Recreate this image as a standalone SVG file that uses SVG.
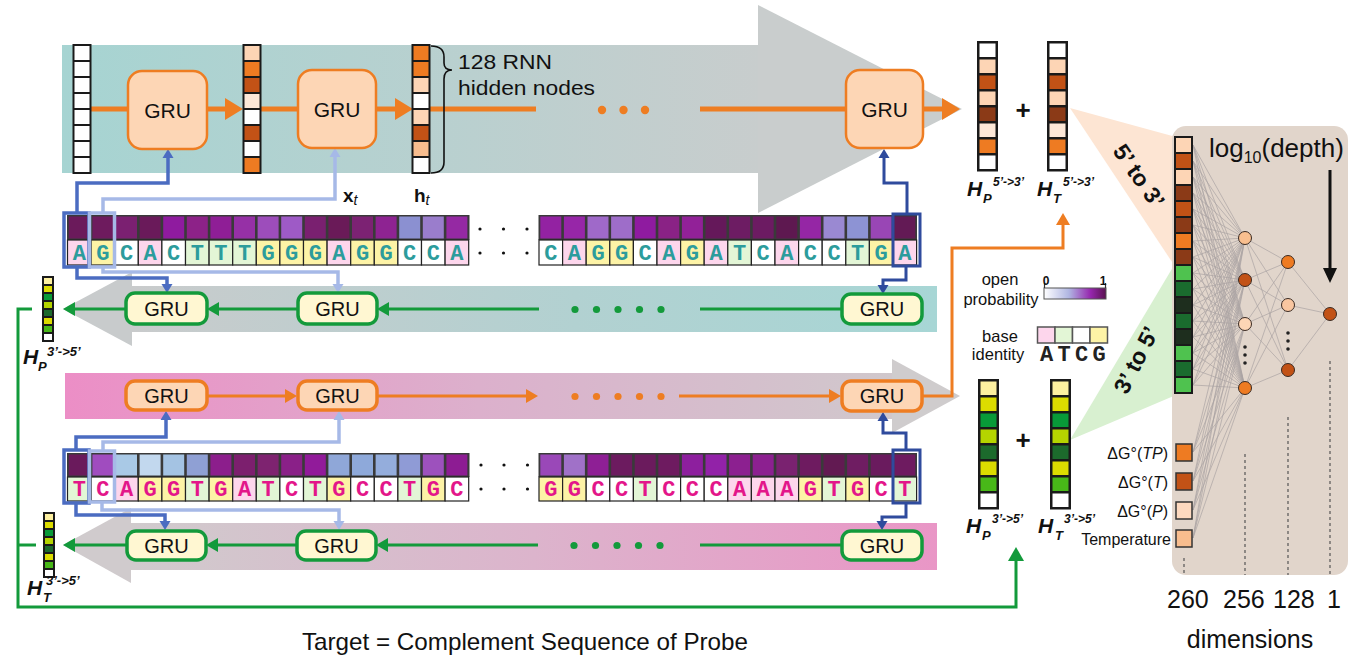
<svg xmlns="http://www.w3.org/2000/svg" width="1359" height="662" viewBox="0 0 1359 662">
<defs>
<linearGradient id="gB1" gradientUnits="userSpaceOnUse" x1="62" y1="0" x2="760" y2="0"><stop offset="0" stop-color="#a6d4d2"/><stop offset="1" stop-color="#c8cdcd"/></linearGradient>
<linearGradient id="gB2" gradientUnits="userSpaceOnUse" x1="132" y1="0" x2="937" y2="0"><stop offset="0" stop-color="#c9cbcc"/><stop offset="0.55" stop-color="#b2d1d1"/><stop offset="1" stop-color="#a7d6d5"/></linearGradient>
<linearGradient id="gB3" gradientUnits="userSpaceOnUse" x1="65" y1="0" x2="892" y2="0"><stop offset="0" stop-color="#ec8ec6"/><stop offset="0.5" stop-color="#dcb0cc"/><stop offset="1" stop-color="#d0c8cc"/></linearGradient>
<linearGradient id="gB4" gradientUnits="userSpaceOnUse" x1="131" y1="0" x2="937" y2="0"><stop offset="0" stop-color="#d0cbcd"/><stop offset="0.5" stop-color="#dcb4cc"/><stop offset="1" stop-color="#e996c6"/></linearGradient>
<linearGradient id="gLeg" x1="0" y1="0" x2="1" y2="0"><stop offset="0" stop-color="#ffffff"/><stop offset="0.4" stop-color="#b0b6e2"/><stop offset="0.75" stop-color="#9626ae"/><stop offset="1" stop-color="#5a1250"/></linearGradient>
<marker id="mOrB" markerUnits="userSpaceOnUse" markerWidth="18" markerHeight="22" refX="0" refY="11" orient="auto" overflow="visible"><path d="M0,0 L18,11 L0,22 z" fill="#ee7d22"/></marker>
<marker id="mOr" markerUnits="userSpaceOnUse" markerWidth="12" markerHeight="14" refX="0" refY="7" orient="auto" overflow="visible"><path d="M0,0 L12,7 L0,14 z" fill="#ee7d22"/></marker>
<marker id="mGr" markerUnits="userSpaceOnUse" markerWidth="12" markerHeight="14" refX="0" refY="7" orient="auto" overflow="visible"><path d="M0,0 L12,7 L0,14 z" fill="#139a3b"/></marker>
<marker id="mGrB" markerUnits="userSpaceOnUse" markerWidth="14" markerHeight="16" refX="0" refY="8" orient="auto" overflow="visible"><path d="M0,0 L14,8 L0,16 z" fill="#139a3b"/></marker>
<marker id="mDb" markerUnits="userSpaceOnUse" markerWidth="9" markerHeight="11" refX="0" refY="5.5" orient="auto" overflow="visible"><path d="M0,0 L9,5.5 L0,11 z" fill="#4b6cc1"/></marker>
<marker id="mLb" markerUnits="userSpaceOnUse" markerWidth="9" markerHeight="11" refX="0" refY="5.5" orient="auto" overflow="visible"><path d="M0,0 L9,5.5 L0,11 z" fill="#a6b9e7"/></marker>
<marker id="mNv" markerUnits="userSpaceOnUse" markerWidth="9" markerHeight="11" refX="0" refY="5.5" orient="auto" overflow="visible"><path d="M0,0 L9,5.5 L0,11 z" fill="#2f4b9d"/></marker>
<style>
.t{font-family:"Liberation Sans",Arial,sans-serif;fill:#111}
.H{font-family:"Liberation Sans",Arial,sans-serif;font-weight:bold;font-style:italic;fill:#111}
.gru{fill:#fdd6b5;stroke:#ee7d22;stroke-width:2.5}
.gruo{fill:#fdd6b5;stroke:#ee7d22;stroke-width:3.5}
.grug{fill:#fff7d2;stroke:#139a3b;stroke-width:3.5}
.gt{font-size:21px;text-anchor:middle}
.rt{font-size:20px;text-anchor:middle}
.seq{font-family:"Liberation Mono","Courier New",monospace;font-weight:bold;font-size:22px;text-anchor:middle}
.sp{fill:#2c9c9c}
.st{fill:#e3168a}
.A,.T,.C,.G{stroke:#222;stroke-width:1.2}
.A{fill:#fdd6ec}.T{fill:#e3f6d6}.C{fill:#ffffff}.G{fill:#fdf3a6}
.orb{stroke:#ee7d22;fill:none;stroke-width:5}
.or{stroke:#ee7d22;fill:none;stroke-width:3}
.gr{stroke:#139a3b;fill:none;stroke-width:3}
.db{stroke:#4b6cc1;fill:none;stroke-width:3.5}
.lb{stroke:#a6b9e7;fill:none;stroke-width:3.5}
.nv{stroke:#2f4b9d;fill:none;stroke-width:3}
.nnl{stroke:#aaa3a3;stroke-width:0.7;fill:none}
.dash{stroke:#555;stroke-width:1.2;stroke-dasharray:3 3}
.node{stroke:#3a2a22;stroke-width:1}
.blk{fill:#1a1a1a}
</style>
</defs>
<rect width="1359" height="662" fill="#ffffff"/>

<!-- bands -->
<g id="band-probe-fwd"><rect x="62" y="45" width="697" height="128" fill="url(#gB1)"/><polygon points="758,5 962,109 758,213" fill="#c9cdcd"/></g>
<g id="band-probe-bwd"><polygon points="63,309 132,272 132,346" fill="#c8cbcc"/><rect x="131.5" y="286" width="805.5" height="46" fill="url(#gB2)"/></g>
<g id="band-target-fwd"><rect x="65" y="373" width="828" height="46" fill="url(#gB3)"/><polygon points="892,359 960,396 892,433" fill="#cfcccd"/></g>
<g id="band-target-bwd"><polygon points="63,545 131,508 131,583" fill="#d0cbcd"/><rect x="130.5" y="523" width="806.5" height="47" fill="url(#gB4)"/></g>

<!-- NN triangles -->
<polygon id="fan-53" points="1070,108 1176,137 1176,268" fill="#fde5d3"/>
<polygon id="fan-35" points="1070,440 1176,262 1176,395" fill="#d8f0d0"/>

<!-- connectors -->
<g id="connectors">
<path class="orb" d="M91,109 H128"/>
<path class="orb" d="M207,109 H225" marker-end="url(#mOrB)"/>
<path class="orb" d="M260,109 H298"/>
<path class="orb" d="M376,109 H395" marker-end="url(#mOrB)"/>
<path class="orb" d="M429,109 H536"/>
<path class="orb" d="M700,109 H846"/>
<path class="orb" d="M923,109 H942" marker-end="url(#mOrB)"/>
<g fill="#ee7d22"><circle cx="602" cy="110" r="4.2"/><circle cx="623.5" cy="110" r="4.2"/><circle cx="645" cy="110" r="4.2"/></g>

<path class="gr" d="M126,309 H75" marker-end="url(#mGr)"/>
<path class="gr" d="M298,309 H219" marker-end="url(#mGr)"/>
<path class="gr" d="M539,309 H389" marker-end="url(#mGr)"/>
<path class="gr" d="M842,309 H700"/>
<g fill="#139a3b"><circle cx="575" cy="309.5" r="3.6"/><circle cx="596.5" cy="309.5" r="3.6"/><circle cx="618" cy="309.5" r="3.6"/><circle cx="639.5" cy="309.5" r="3.6"/><circle cx="661" cy="309.5" r="3.6"/></g>

<path class="or" d="M207,396 H285" marker-end="url(#mOr)"/>
<path class="or" d="M377,396 H526" marker-end="url(#mOr)"/>
<path class="or" d="M679,396 H829" marker-end="url(#mOr)"/>
<path class="or" d="M922,396 H952 V248 H1063 V225" marker-end="url(#mOr)"/>
<g fill="#ee7d22"><circle cx="575" cy="396.5" r="3.6"/><circle cx="596.5" cy="396.5" r="3.6"/><circle cx="618" cy="396.5" r="3.6"/><circle cx="639.5" cy="396.5" r="3.6"/><circle cx="661" cy="396.5" r="3.6"/></g>

<path class="gr" d="M127,545 H75" marker-end="url(#mGr)"/>
<path class="gr" d="M297,545 H218" marker-end="url(#mGr)"/>
<path class="gr" d="M538,545 H388" marker-end="url(#mGr)"/>
<path class="gr" d="M842,545 H700"/>
<g fill="#139a3b"><circle cx="574" cy="545.5" r="3.6"/><circle cx="595.5" cy="545.5" r="3.6"/><circle cx="617" cy="545.5" r="3.6"/><circle cx="638.5" cy="545.5" r="3.6"/><circle cx="660" cy="545.5" r="3.6"/></g>

<path class="gr" d="M32,309 H18 V607 H1016 V561" marker-end="url(#mGrB)"/>
<path class="gr" d="M18,545 H36"/>

<path class="db" d="M77,213 V183 H168 V158" marker-end="url(#mDb)"/>
<path class="lb" d="M103,213 V199 H335 V157" marker-end="url(#mLb)"/>
<path class="nv" d="M907,214 V183 H884 V158" marker-end="url(#mNv)"/>
<path class="db" d="M77,267 V278 H167 V284" marker-end="url(#mDb)"/>
<path class="lb" d="M103,267 V272 H338 V284" marker-end="url(#mLb)"/>
<path class="nv" d="M906,266 V280 H883 V285" marker-end="url(#mNv)"/>
<path class="db" d="M76,450 V437 H166 V420" marker-end="url(#mDb)"/>
<path class="lb" d="M103,451 V442 H339 V420" marker-end="url(#mLb)"/>
<path class="nv" d="M906,450 V433 H883 V421" marker-end="url(#mNv)"/>
<path class="db" d="M76,503 V515 H165 V521" marker-end="url(#mDb)"/>
<path class="lb" d="M102,502 V510 H339 V521" marker-end="url(#mLb)"/>
<path class="nv" d="M906,503 V517 H882 V521" marker-end="url(#mNv)"/>
</g>

<!-- top GRUs -->
<g id="gru-t1"><rect class="gru" x="128" y="71" width="79" height="78" rx="14"/><text class="t gt" x="167.5" y="118">GRU</text></g>
<g id="gru-t2"><rect class="gru" x="298" y="70" width="78" height="78" rx="14"/><text class="t gt" x="337" y="117">GRU</text></g>
<g id="gru-t3"><rect class="gru" x="846" y="70" width="77" height="78" rx="14"/><text class="t gt" x="884.5" y="117">GRU</text></g>
<!-- row 2 -->
<g id="gru-b1"><rect class="grug" x="126" y="293" width="81" height="31" rx="9"/><text class="t rt" x="166.5" y="316">GRU</text></g>
<g id="gru-b2"><rect class="grug" x="298" y="293" width="79" height="31" rx="9"/><text class="t rt" x="337.5" y="316">GRU</text></g>
<g id="gru-b3"><rect class="grug" x="842" y="294" width="80" height="30" rx="9"/><text class="t rt" x="882" y="316">GRU</text></g>
<!-- row 3 -->
<g id="gru-c1"><rect class="gruo" x="126" y="381" width="81" height="29" rx="9"/><text class="t rt" x="166.5" y="403">GRU</text></g>
<g id="gru-c2"><rect class="gruo" x="298" y="381" width="79" height="29" rx="9"/><text class="t rt" x="337.5" y="403">GRU</text></g>
<g id="gru-c3"><rect class="gruo" x="842" y="381" width="80" height="30" rx="9"/><text class="t rt" x="882" y="403">GRU</text></g>
<!-- row 4 -->
<g id="gru-d1"><rect class="grug" x="127" y="531" width="79" height="29" rx="9"/><text class="t rt" x="166.5" y="553">GRU</text></g>
<g id="gru-d2"><rect class="grug" x="297" y="531" width="79" height="29" rx="9"/><text class="t rt" x="336.5" y="553">GRU</text></g>
<g id="gru-d3"><rect class="grug" x="842" y="531" width="80" height="29" rx="9"/><text class="t rt" x="882" y="553">GRU</text></g>

<!-- top vectors -->
<g id="vec-h0"><rect class="blk" x="72.5" y="44" width="19" height="130"/>
<g fill="#ffffff"><rect x="74.5" y="46" width="15" height="14"/><rect x="74.5" y="62" width="15" height="14"/><rect x="74.5" y="78" width="15" height="14"/><rect x="74.5" y="94" width="15" height="14"/><rect x="74.5" y="110" width="15" height="14"/><rect x="74.5" y="126" width="15" height="14"/><rect x="74.5" y="142" width="15" height="14"/><rect x="74.5" y="158" width="15" height="14"/></g></g>
<g id="vec-h1"><rect class="blk" x="242.5" y="44" width="19" height="130"/>
<rect x="244.5" y="46" width="15" height="14" fill="#fdd5b5"/><rect x="244.5" y="62" width="15" height="14" fill="#ee7b22"/><rect x="244.5" y="78" width="15" height="14" fill="#c25216"/><rect x="244.5" y="94" width="15" height="14" fill="#fde8d8"/><rect x="244.5" y="110" width="15" height="14" fill="#ffffff"/><rect x="244.5" y="126" width="15" height="14" fill="#c25216"/><rect x="244.5" y="142" width="15" height="14" fill="#ffffff"/><rect x="244.5" y="158" width="15" height="14" fill="#ee7b22"/></g>
<g id="vec-ht"><rect class="blk" x="411.5" y="44" width="19" height="130"/>
<rect x="413.5" y="46" width="15" height="14" fill="#ee7b22"/><rect x="413.5" y="62" width="15" height="14" fill="#ee7b22"/><rect x="413.5" y="78" width="15" height="14" fill="#fdd5b5"/><rect x="413.5" y="94" width="15" height="14" fill="#ffffff"/><rect x="413.5" y="110" width="15" height="14" fill="#fdd5b5"/><rect x="413.5" y="126" width="15" height="14" fill="#c25216"/><rect x="413.5" y="142" width="15" height="14" fill="#f8bd8e"/><rect x="413.5" y="158" width="15" height="14" fill="#ffffff"/></g>
<g id="brace"><path d="M431,46 C440,46 444,50 444,57 L444,63 C444,67 446,70 452,70 C446,70 444,73 444,79 L444,162 C444,169 440,173 431,173" fill="none" stroke="#111" stroke-width="1.6"/>
<text class="t" x="458" y="69" font-size="20" textLength="94" lengthAdjust="spacingAndGlyphs">128 RNN</text><text class="t" x="458" y="95" font-size="20" textLength="137" lengthAdjust="spacingAndGlyphs">hidden nodes</text></g>
<g id="label-xt"><text class="t" x="343" y="202" font-size="19" font-weight="bold">x<tspan font-size="14" font-style="italic" font-weight="normal" dy="3">t</tspan></text></g>
<g id="label-ht"><text class="t" x="414" y="202" font-size="19" font-weight="bold">h<tspan font-size="14" font-style="italic" font-weight="normal" dy="3">t</tspan></text></g>

<!-- probe sequence -->
<g id="seq-probe-left">
<rect x="67" y="215" width="402.5" height="25" fill="#3a3a3a"/>
<rect x="68.8" y="216.5" width="21" height="22" fill="#6b1a5b"/><rect x="92.4" y="216.5" width="21" height="22" fill="#6e1b5e"/><rect x="116" y="216.5" width="21" height="22" fill="#7b2071"/><rect x="139.6" y="216.5" width="21" height="22" fill="#6a1a5a"/><rect x="163.2" y="216.5" width="21" height="22" fill="#8f1b9f"/><rect x="186.8" y="216.5" width="21" height="22" fill="#8d2288"/><rect x="210.4" y="216.5" width="21" height="22" fill="#8f1e96"/><rect x="234" y="216.5" width="21" height="22" fill="#9630a6"/><rect x="257.6" y="216.5" width="21" height="22" fill="#9d4dbb"/><rect x="281.2" y="216.5" width="21" height="22" fill="#9e5ac6"/><rect x="304.8" y="216.5" width="21" height="22" fill="#7a2070"/><rect x="328.4" y="216.5" width="21" height="22" fill="#6a1a58"/><rect x="352" y="216.5" width="21" height="22" fill="#7c2273"/><rect x="375.6" y="216.5" width="21" height="22" fill="#8e2392"/><rect x="399.2" y="216.5" width="21" height="22" fill="#8b90d1"/><rect x="422.8" y="216.5" width="21" height="22" fill="#9a7dcc"/><rect x="446.4" y="216.5" width="21" height="22" fill="#9529a3"/>
<rect class="A" x="67.5" y="240" width="23.6" height="25"/><rect class="G" x="91.1" y="240" width="23.6" height="25"/><rect class="C" x="114.7" y="240" width="23.6" height="25"/><rect class="A" x="138.3" y="240" width="23.6" height="25"/><rect class="C" x="161.9" y="240" width="23.6" height="25"/><rect class="T" x="185.5" y="240" width="23.6" height="25"/><rect class="T" x="209.1" y="240" width="23.6" height="25"/><rect class="T" x="232.7" y="240" width="23.6" height="25"/><rect class="G" x="256.3" y="240" width="23.6" height="25"/><rect class="G" x="279.9" y="240" width="23.6" height="25"/><rect class="G" x="303.5" y="240" width="23.6" height="25"/><rect class="A" x="327.1" y="240" width="23.6" height="25"/><rect class="G" x="350.7" y="240" width="23.6" height="25"/><rect class="G" x="374.3" y="240" width="23.6" height="25"/><rect class="C" x="397.9" y="240" width="23.6" height="25"/><rect class="C" x="421.5" y="240" width="23.6" height="25"/><rect class="A" x="445.1" y="240" width="23.6" height="25"/>
<g class="seq sp"><text x="79.3" y="260">A</text><text x="102.9" y="260">G</text><text x="126.5" y="260">C</text><text x="150.1" y="260">A</text><text x="173.7" y="260">C</text><text x="197.3" y="260">T</text><text x="220.9" y="260">T</text><text x="244.5" y="260">T</text><text x="268.1" y="260">G</text><text x="291.7" y="260">G</text><text x="315.3" y="260">G</text><text x="338.9" y="260">A</text><text x="362.5" y="260">G</text><text x="386.1" y="260">G</text><text x="409.7" y="260">C</text><text x="433.3" y="260">C</text><text x="456.9" y="260">A</text></g>
</g>
<g id="seq-probe-dots" fill="#111"><circle cx="480" cy="229" r="1.6"/><circle cx="503.5" cy="229" r="1.6"/><circle cx="527" cy="229" r="1.6"/><circle cx="480" cy="253" r="1.6"/><circle cx="503.5" cy="253" r="1.6"/><circle cx="527" cy="253" r="1.6"/></g>
<g id="seq-probe-right">
<rect x="538.5" y="215" width="378.5" height="25" fill="#3a3a3a"/>
<rect x="540.3" y="216.5" width="21" height="22" fill="#9322a2"/><rect x="563.9" y="216.5" width="21" height="22" fill="#9726a8"/><rect x="587.5" y="216.5" width="21" height="22" fill="#9f69c9"/><rect x="611.1" y="216.5" width="21" height="22" fill="#9e6dc9"/><rect x="634.7" y="216.5" width="21" height="22" fill="#8f1ba0"/><rect x="658.3" y="216.5" width="21" height="22" fill="#8a2285"/><rect x="681.9" y="216.5" width="21" height="22" fill="#922198"/><rect x="705.5" y="216.5" width="21" height="22" fill="#65185a"/><rect x="729.1" y="216.5" width="21" height="22" fill="#6d1c63"/><rect x="752.7" y="216.5" width="21" height="22" fill="#6c1b62"/><rect x="776.3" y="216.5" width="21" height="22" fill="#5e1850"/><rect x="799.9" y="216.5" width="21" height="22" fill="#9526a5"/><rect x="823.5" y="216.5" width="21" height="22" fill="#9a89d2"/><rect x="847.1" y="216.5" width="21" height="22" fill="#8d93d4"/><rect x="870.7" y="216.5" width="21" height="22" fill="#9946b5"/><rect x="894.3" y="216.5" width="21" height="22" fill="#631a55"/>
<rect class="C" x="539" y="240" width="23.6" height="25"/><rect class="A" x="562.6" y="240" width="23.6" height="25"/><rect class="G" x="586.2" y="240" width="23.6" height="25"/><rect class="G" x="609.8" y="240" width="23.6" height="25"/><rect class="C" x="633.4" y="240" width="23.6" height="25"/><rect class="A" x="657" y="240" width="23.6" height="25"/><rect class="G" x="680.6" y="240" width="23.6" height="25"/><rect class="A" x="704.2" y="240" width="23.6" height="25"/><rect class="T" x="727.8" y="240" width="23.6" height="25"/><rect class="C" x="751.4" y="240" width="23.6" height="25"/><rect class="A" x="775" y="240" width="23.6" height="25"/><rect class="C" x="798.6" y="240" width="23.6" height="25"/><rect class="C" x="822.2" y="240" width="23.6" height="25"/><rect class="T" x="845.8" y="240" width="23.6" height="25"/><rect class="G" x="869.4" y="240" width="23.6" height="25"/><rect class="A" x="893" y="240" width="23.6" height="25"/>
<g class="seq sp"><text x="550.8" y="260">C</text><text x="574.4" y="260">A</text><text x="598" y="260">G</text><text x="621.6" y="260">G</text><text x="645.2" y="260">C</text><text x="668.8" y="260">A</text><text x="692.4" y="260">G</text><text x="716" y="260">A</text><text x="739.6" y="260">T</text><text x="763.2" y="260">C</text><text x="786.8" y="260">A</text><text x="810.4" y="260">C</text><text x="834" y="260">C</text><text x="857.6" y="260">T</text><text x="881.2" y="260">G</text><text x="904.8" y="260">A</text></g>
</g>

<!-- target sequence -->
<g id="seq-target-left">
<rect x="67" y="453" width="402.5" height="24" fill="#3a3a3a"/>
<rect x="68.8" y="454.5" width="21" height="21" fill="#6a1a5c"/><rect x="92.4" y="454.5" width="21" height="21" fill="#a04cbf"/><rect x="116" y="454.5" width="21" height="21" fill="#a9c9e6"/><rect x="139.6" y="454.5" width="21" height="21" fill="#c2d8ee"/><rect x="163.2" y="454.5" width="21" height="21" fill="#a4c3e3"/><rect x="186.8" y="454.5" width="21" height="21" fill="#8fa0d4"/><rect x="210.4" y="454.5" width="21" height="21" fill="#8c1e8c"/><rect x="234" y="454.5" width="21" height="21" fill="#7c1f6e"/><rect x="257.6" y="454.5" width="21" height="21" fill="#7e2370"/><rect x="281.2" y="454.5" width="21" height="21" fill="#8a2088"/><rect x="304.8" y="454.5" width="21" height="21" fill="#911b9a"/><rect x="328.4" y="454.5" width="21" height="21" fill="#8fa7d8"/><rect x="352" y="454.5" width="21" height="21" fill="#8ea9da"/><rect x="375.6" y="454.5" width="21" height="21" fill="#94addc"/><rect x="399.2" y="454.5" width="21" height="21" fill="#8f9bd6"/><rect x="422.8" y="454.5" width="21" height="21" fill="#9d51bd"/><rect x="446.4" y="454.5" width="21" height="21" fill="#8d1c93"/>
<rect class="T" x="67.5" y="477" width="23.6" height="24"/><rect class="C" x="91.1" y="477" width="23.6" height="24"/><rect class="A" x="114.7" y="477" width="23.6" height="24"/><rect class="G" x="138.3" y="477" width="23.6" height="24"/><rect class="G" x="161.9" y="477" width="23.6" height="24"/><rect class="T" x="185.5" y="477" width="23.6" height="24"/><rect class="G" x="209.1" y="477" width="23.6" height="24"/><rect class="A" x="232.7" y="477" width="23.6" height="24"/><rect class="T" x="256.3" y="477" width="23.6" height="24"/><rect class="C" x="279.9" y="477" width="23.6" height="24"/><rect class="T" x="303.5" y="477" width="23.6" height="24"/><rect class="G" x="327.1" y="477" width="23.6" height="24"/><rect class="C" x="350.7" y="477" width="23.6" height="24"/><rect class="C" x="374.3" y="477" width="23.6" height="24"/><rect class="T" x="397.9" y="477" width="23.6" height="24"/><rect class="G" x="421.5" y="477" width="23.6" height="24"/><rect class="C" x="445.1" y="477" width="23.6" height="24"/>
<g class="seq st"><text x="79.3" y="496">T</text><text x="102.9" y="496">C</text><text x="126.5" y="496">A</text><text x="150.1" y="496">G</text><text x="173.7" y="496">G</text><text x="197.3" y="496">T</text><text x="220.9" y="496">G</text><text x="244.5" y="496">A</text><text x="268.1" y="496">T</text><text x="291.7" y="496">C</text><text x="315.3" y="496">T</text><text x="338.9" y="496">G</text><text x="362.5" y="496">C</text><text x="386.1" y="496">C</text><text x="409.7" y="496">T</text><text x="433.3" y="496">G</text><text x="456.9" y="496">C</text></g>
</g>
<g id="seq-target-dots" fill="#111"><circle cx="481" cy="465" r="1.6"/><circle cx="504" cy="465" r="1.6"/><circle cx="527.5" cy="465" r="1.6"/><circle cx="481" cy="489" r="1.6"/><circle cx="504" cy="489" r="1.6"/><circle cx="527.5" cy="489" r="1.6"/></g>
<g id="seq-target-right">
<rect x="538.5" y="453" width="378.5" height="24" fill="#3a3a3a"/>
<rect x="540.3" y="454.5" width="21" height="21" fill="#9a48b8"/><rect x="563.9" y="454.5" width="21" height="21" fill="#a071c8"/><rect x="587.5" y="454.5" width="21" height="21" fill="#8e1f95"/><rect x="611.1" y="454.5" width="21" height="21" fill="#6c1b5f"/><rect x="634.7" y="454.5" width="21" height="21" fill="#6b1b5d"/><rect x="658.3" y="454.5" width="21" height="21" fill="#6e1b60"/><rect x="681.9" y="454.5" width="21" height="21" fill="#8d1f9e"/><rect x="705.5" y="454.5" width="21" height="21" fill="#9222a8"/><rect x="729.1" y="454.5" width="21" height="21" fill="#8c2090"/><rect x="752.7" y="454.5" width="21" height="21" fill="#8c2090"/><rect x="776.3" y="454.5" width="21" height="21" fill="#7a2270"/><rect x="799.9" y="454.5" width="21" height="21" fill="#6e1b60"/><rect x="823.5" y="454.5" width="21" height="21" fill="#621a52"/><rect x="847.1" y="454.5" width="21" height="21" fill="#6f1d62"/><rect x="870.7" y="454.5" width="21" height="21" fill="#6a1b5e"/><rect x="894.3" y="454.5" width="21" height="21" fill="#6e1b60"/>
<rect class="G" x="539" y="477" width="23.6" height="24"/><rect class="G" x="562.6" y="477" width="23.6" height="24"/><rect class="C" x="586.2" y="477" width="23.6" height="24"/><rect class="C" x="609.8" y="477" width="23.6" height="24"/><rect class="T" x="633.4" y="477" width="23.6" height="24"/><rect class="C" x="657" y="477" width="23.6" height="24"/><rect class="C" x="680.6" y="477" width="23.6" height="24"/><rect class="C" x="704.2" y="477" width="23.6" height="24"/><rect class="A" x="727.8" y="477" width="23.6" height="24"/><rect class="A" x="751.4" y="477" width="23.6" height="24"/><rect class="A" x="775" y="477" width="23.6" height="24"/><rect class="G" x="798.6" y="477" width="23.6" height="24"/><rect class="T" x="822.2" y="477" width="23.6" height="24"/><rect class="G" x="845.8" y="477" width="23.6" height="24"/><rect class="C" x="869.4" y="477" width="23.6" height="24"/><rect class="T" x="893" y="477" width="23.6" height="24"/>
<g class="seq st"><text x="550.8" y="496">G</text><text x="574.4" y="496">G</text><text x="598" y="496">C</text><text x="621.6" y="496">C</text><text x="645.2" y="496">T</text><text x="668.8" y="496">C</text><text x="692.4" y="496">C</text><text x="716" y="496">C</text><text x="739.6" y="496">A</text><text x="763.2" y="496">A</text><text x="786.8" y="496">A</text><text x="810.4" y="496">G</text><text x="834" y="496">T</text><text x="857.6" y="496">G</text><text x="881.2" y="496">C</text><text x="904.8" y="496">T</text></g>
</g>

<!-- highlight frames -->
<g id="highlights" fill="none">
<rect x="64" y="213" width="25" height="54" stroke="#4b6cc1" stroke-width="3.5"/>
<rect x="89.5" y="213" width="25" height="54" stroke="#a6b9e7" stroke-width="3.5"/>
<rect x="893" y="214" width="27" height="52" stroke="#2f4b9d" stroke-width="3"/>
<rect x="64" y="450" width="25" height="53" stroke="#4b6cc1" stroke-width="3.5"/>
<rect x="89.5" y="451" width="25" height="51" stroke="#a6b9e7" stroke-width="3.5"/>
<rect x="893" y="450" width="27" height="53" stroke="#2f4b9d" stroke-width="3"/>
</g>

<!-- left small vectors -->
<g id="vec-HP35-left"><rect class="blk" x="42" y="276" width="12" height="66"/>
<rect x="44" y="278" width="8" height="6" fill="#fdf0a0"/><rect x="44" y="286" width="8" height="6" fill="#dcdc00"/><rect x="44" y="294" width="8" height="6" fill="#089a38"/><rect x="44" y="302" width="8" height="6" fill="#b5d400"/><rect x="44" y="310" width="8" height="6" fill="#1c6a2c"/><rect x="44" y="318" width="8" height="6" fill="#dcdc00"/><rect x="44" y="326" width="8" height="6" fill="#48b818"/><rect x="44" y="334" width="8" height="6" fill="#ffffff"/>
<text class="H" x="23" y="364" font-size="21">H</text><text class="H" x="38" y="371" font-size="13">P</text><text class="H" x="47" y="356" font-size="13">3’-&gt;5’</text></g>
<g id="vec-HT35-left"><rect class="blk" x="43" y="512" width="12" height="66"/>
<rect x="45" y="514" width="8" height="6" fill="#fdf0a0"/><rect x="45" y="522" width="8" height="6" fill="#dcdc00"/><rect x="45" y="530" width="8" height="6" fill="#089a38"/><rect x="45" y="538" width="8" height="6" fill="#b5d400"/><rect x="45" y="546" width="8" height="6" fill="#1c6a2c"/><rect x="45" y="554" width="8" height="6" fill="#dcdc00"/><rect x="45" y="562" width="8" height="6" fill="#48b818"/><rect x="45" y="570" width="8" height="6" fill="#ffffff"/>
<text class="H" x="27" y="595" font-size="21">H</text><text class="H" x="43" y="602" font-size="13">T</text><text class="H" x="46" y="585" font-size="13">3’-&gt;5’</text></g>

<!-- right vectors -->
<g id="vec-HP53"><rect class="blk" x="977" y="41" width="21" height="130.5"/>
<rect x="979.5" y="43.5" width="16" height="13.5" fill="#ffffff"/><rect x="979.5" y="59.5" width="16" height="13.5" fill="#fdd5b5"/><rect x="979.5" y="75.5" width="16" height="13.5" fill="#c25216"/><rect x="979.5" y="91.5" width="16" height="13.5" fill="#fdd5b5"/><rect x="979.5" y="107.5" width="16" height="13.5" fill="#8b3a17"/><rect x="979.5" y="123.5" width="16" height="13.5" fill="#fde8d8"/><rect x="979.5" y="139.5" width="16" height="13.5" fill="#ee7b22"/><rect x="979.5" y="155.5" width="16" height="13.5" fill="#ffffff"/>
<text class="H" x="967" y="196" font-size="21">H</text><text class="H" x="983" y="203" font-size="13">P</text><text class="H" x="993" y="186" font-size="12">5’-&gt;3’</text></g>
<g id="vec-HT53"><rect class="blk" x="1047" y="41" width="21" height="130.5"/>
<rect x="1049.5" y="43.5" width="16" height="13.5" fill="#ffffff"/><rect x="1049.5" y="59.5" width="16" height="13.5" fill="#fdd5b5"/><rect x="1049.5" y="75.5" width="16" height="13.5" fill="#c25216"/><rect x="1049.5" y="91.5" width="16" height="13.5" fill="#fdd5b5"/><rect x="1049.5" y="107.5" width="16" height="13.5" fill="#8b3a17"/><rect x="1049.5" y="123.5" width="16" height="13.5" fill="#fde8d8"/><rect x="1049.5" y="139.5" width="16" height="13.5" fill="#ee7b22"/><rect x="1049.5" y="155.5" width="16" height="13.5" fill="#ffffff"/>
<text class="H" x="1037" y="196" font-size="21">H</text><text class="H" x="1053" y="203" font-size="13">T</text><text class="H" x="1063" y="186" font-size="12">5’-&gt;3’</text></g>
<text class="t" x="1023" y="119" font-size="26" font-weight="bold" text-anchor="middle">+</text>

<g id="vec-HP35"><rect class="blk" x="978" y="379" width="21" height="130.5"/>
<rect x="980.5" y="381.5" width="16" height="13.5" fill="#fdf0a0"/><rect x="980.5" y="397.5" width="16" height="13.5" fill="#dcdc00"/><rect x="980.5" y="413.5" width="16" height="13.5" fill="#089a38"/><rect x="980.5" y="429.5" width="16" height="13.5" fill="#b5d400"/><rect x="980.5" y="445.5" width="16" height="13.5" fill="#1c6a2c"/><rect x="980.5" y="461.5" width="16" height="13.5" fill="#dcdc00"/><rect x="980.5" y="477.5" width="16" height="13.5" fill="#48b818"/><rect x="980.5" y="493.5" width="16" height="13.5" fill="#ffffff"/>
<text class="H" x="966" y="533" font-size="21">H</text><text class="H" x="982" y="540" font-size="13">P</text><text class="H" x="992" y="523" font-size="12">3’-&gt;5’</text></g>
<g id="vec-HT35"><rect class="blk" x="1050" y="379" width="21" height="130.5"/>
<rect x="1052.5" y="381.5" width="16" height="13.5" fill="#fdf0a0"/><rect x="1052.5" y="397.5" width="16" height="13.5" fill="#dcdc00"/><rect x="1052.5" y="413.5" width="16" height="13.5" fill="#089a38"/><rect x="1052.5" y="429.5" width="16" height="13.5" fill="#b5d400"/><rect x="1052.5" y="445.5" width="16" height="13.5" fill="#1c6a2c"/><rect x="1052.5" y="461.5" width="16" height="13.5" fill="#dcdc00"/><rect x="1052.5" y="477.5" width="16" height="13.5" fill="#48b818"/><rect x="1052.5" y="493.5" width="16" height="13.5" fill="#ffffff"/>
<text class="H" x="1038" y="533" font-size="21">H</text><text class="H" x="1055" y="540" font-size="13">T</text><text class="H" x="1064" y="523" font-size="12">3’-&gt;5’</text></g>
<text class="t" x="1023" y="449" font-size="26" font-weight="bold" text-anchor="middle">+</text>

<!-- legend -->
<g id="legend-open">
<text class="t" x="1000" y="285" font-size="16.5" text-anchor="middle">open</text>
<text class="t" x="1001" y="305" font-size="16.5" text-anchor="middle">probability</text>
<rect x="1044" y="288" width="62" height="11" fill="url(#gLeg)" stroke="#555" stroke-width="1"/>
<path d="M1044.5,283 V288 M1105.5,283 V288" stroke="#333" stroke-width="1.2"/>
<text class="t" x="1046" y="285" font-size="12" font-weight="bold" text-anchor="middle">0</text>
<text class="t" x="1103" y="285" font-size="12" font-weight="bold" text-anchor="middle">1</text>
</g>
<g id="legend-base">
<text class="t" x="1000" y="342" font-size="16.5" text-anchor="middle">base</text>
<text class="t" x="998" y="360" font-size="16.5" text-anchor="middle">identity</text>
<g stroke="#555" stroke-width="1.5"><rect x="1037.5" y="327" width="17.5" height="16" fill="#fdd6ec"/><rect x="1055" y="327" width="17.5" height="16" fill="#e3f6d6"/><rect x="1072.5" y="327" width="17.5" height="16" fill="#ffffff"/><rect x="1090" y="327" width="17.5" height="16" fill="#fdf3a6"/></g>
<g class="seq" font-size="14" fill="#222"><text x="1046.5" y="361">A</text><text x="1064" y="361">T</text><text x="1081.5" y="361">C</text><text x="1099" y="361">G</text></g>
</g>

<!-- NN -->
<g id="nn">
<rect x="1172" y="126" width="176" height="449" rx="14" fill="#e1d5cb"/>
<path class="nnl" d="M1193 145L1245 238M1193 145L1245 280M1193 145L1245 324M1193 145L1245 388M1193 161L1245 238M1193 161L1245 280M1193 161L1245 324M1193 161L1245 388M1193 177L1245 238M1193 177L1245 280M1193 177L1245 324M1193 177L1245 388M1193 193L1245 238M1193 193L1245 280M1193 193L1245 324M1193 193L1245 388M1193 209L1245 238M1193 209L1245 280M1193 209L1245 324M1193 209L1245 388M1193 225L1245 238M1193 225L1245 280M1193 225L1245 324M1193 225L1245 388M1193 241L1245 238M1193 241L1245 280M1193 241L1245 324M1193 241L1245 388M1193 257L1245 238M1193 257L1245 280M1193 257L1245 324M1193 257L1245 388M1193 273L1245 238M1193 273L1245 280M1193 273L1245 324M1193 273L1245 388M1193 289L1245 238M1193 289L1245 280M1193 289L1245 324M1193 289L1245 388M1193 305L1245 238M1193 305L1245 280M1193 305L1245 324M1193 305L1245 388M1193 321L1245 238M1193 321L1245 280M1193 321L1245 324M1193 321L1245 388M1193 337L1245 238M1193 337L1245 280M1193 337L1245 324M1193 337L1245 388M1193 353L1245 238M1193 353L1245 280M1193 353L1245 324M1193 353L1245 388M1193 369L1245 238M1193 369L1245 280M1193 369L1245 324M1193 369L1245 388M1193 385L1245 238M1193 385L1245 280M1193 385L1245 324M1193 385L1245 388M1193 452L1245 238M1193 452L1245 280M1193 452L1245 324M1193 452L1245 388M1193 481L1245 238M1193 481L1245 280M1193 481L1245 324M1193 481L1245 388M1193 510L1245 238M1193 510L1245 280M1193 510L1245 324M1193 510L1245 388M1193 538L1245 238M1193 538L1245 280M1193 538L1245 324M1193 538L1245 388M1245 238L1288 262M1245 238L1288 305M1245 238L1288 370M1245 280L1288 262M1245 280L1288 305M1245 280L1288 370M1245 324L1288 262M1245 324L1288 305M1245 324L1288 370M1245 388L1288 262M1245 388L1288 305M1245 388L1288 370M1288 262L1330 314M1288 305L1330 314M1288 370L1330 314"/>
<path class="dash" d="M1184,558 V575 M1245,454 V575 M1288,417 V575 M1330,361 V575"/>
<rect class="blk" x="1174" y="136" width="19" height="258"/>
<rect x="1176" y="138" width="15" height="14" fill="#fdd5b5"/><rect x="1176" y="154" width="15" height="14" fill="#c25216"/><rect x="1176" y="170" width="15" height="14" fill="#fdd5b5"/><rect x="1176" y="186" width="15" height="14" fill="#8b3a17"/><rect x="1176" y="202" width="15" height="14" fill="#c25216"/><rect x="1176" y="218" width="15" height="14" fill="#8b3a17"/><rect x="1176" y="234" width="15" height="14" fill="#ee7b22"/><rect x="1176" y="250" width="15" height="14" fill="#8b3a17"/><rect x="1176" y="266" width="15" height="14" fill="#4fc24f"/><rect x="1176" y="282" width="15" height="14" fill="#1a6b2e"/><rect x="1176" y="298" width="15" height="14" fill="#1e2e1e"/><rect x="1176" y="314" width="15" height="14" fill="#1a6b2e"/><rect x="1176" y="330" width="15" height="14" fill="#1e2e1e"/><rect x="1176" y="346" width="15" height="14" fill="#4fc24f"/><rect x="1176" y="362" width="15" height="14" fill="#1a6b2e"/><rect x="1176" y="378" width="15" height="14" fill="#4fc24f"/>
<g stroke="#333" stroke-width="1.5"><rect x="1176" y="444" width="16" height="17" fill="#ee7b22"/><rect x="1176" y="473" width="16" height="17" fill="#c25216"/><rect x="1176" y="502" width="16" height="17" fill="#fdd9bf"/><rect x="1176" y="530" width="16" height="17" fill="#f8bd8e"/></g>
<g class="node"><circle cx="1245" cy="238" r="6.5" fill="#f9bf8f"/><circle cx="1245" cy="280" r="6.5" fill="#c25216"/><circle cx="1245" cy="324" r="6.5" fill="#fdd5b5"/><circle cx="1245" cy="388" r="6.5" fill="#ee7b22"/><circle cx="1288" cy="262" r="6.5" fill="#ee7b22"/><circle cx="1288" cy="305" r="6.5" fill="#f9c6a0"/><circle cx="1288" cy="370" r="6.5" fill="#c25216"/><circle cx="1330" cy="314" r="6.5" fill="#c25216"/></g>
<g fill="#222"><circle cx="1245" cy="347" r="1.8"/><circle cx="1245" cy="355" r="1.8"/><circle cx="1245" cy="363" r="1.8"/><circle cx="1288" cy="333" r="1.8"/><circle cx="1288" cy="341" r="1.8"/><circle cx="1288" cy="349" r="1.8"/></g>
<path d="M1330,170 V270" stroke="#111" stroke-width="3"/><polygon points="1323,268 1337,268 1330,283" fill="#111"/>
<text class="t" x="1209" y="157" font-size="26">log<tspan font-size="16" dy="6">10</tspan><tspan dy="-6">(depth)</tspan></text>
<g class="t" font-size="16" text-anchor="end"><text x="1168" y="459">ΔG°(<tspan font-style="italic">TP</tspan>)</text><text x="1168" y="488">ΔG°(<tspan font-style="italic">T</tspan>)</text><text x="1168" y="517">ΔG°(<tspan font-style="italic">P</tspan>)</text><text x="1171" y="545">Temperature</text></g>
</g>
<text class="t" transform="translate(1139,176) rotate(55)" x="0" y="8" font-size="23" font-weight="bold" text-anchor="middle">5’ to 3’</text>
<text class="t" transform="translate(1136,360) rotate(-63)" x="0" y="8" font-size="23" font-weight="bold" text-anchor="middle">3’ to 5’</text>
<g id="dims" class="t" font-size="25"><text x="1167" y="608">260</text><text x="1223" y="608">256</text><text x="1273" y="608">128</text><text x="1327" y="608">1</text><text x="1250" y="648" text-anchor="middle">dimensions</text></g>
<text class="t" x="302" y="650" font-size="24" textLength="446" lengthAdjust="spacingAndGlyphs">Target = Complement Sequence of Probe</text>
</svg>
